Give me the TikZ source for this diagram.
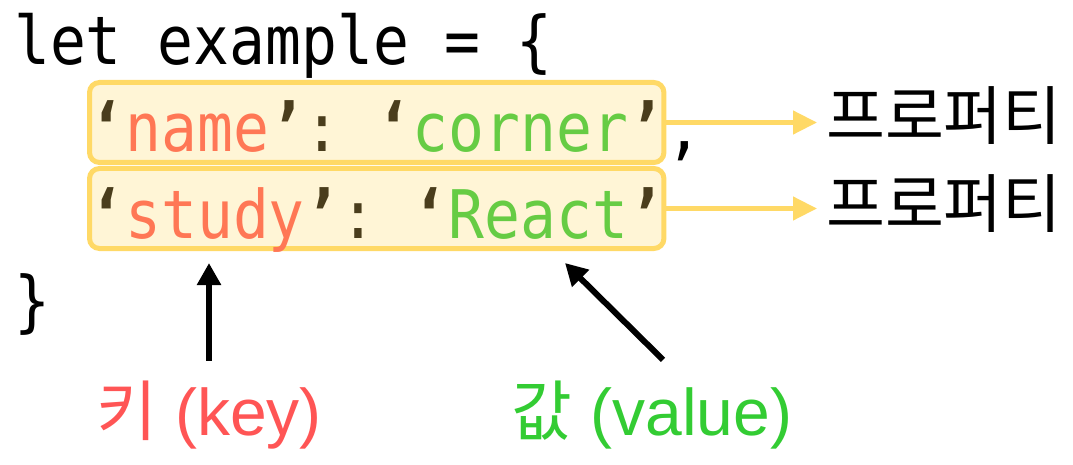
\documentclass[tikz,border=0pt]{standalone}
\usepackage{fontspec}
\setmainfont{Liberation Sans}
\newfontfamily\codefont[FakeStretch=0.89]{DejaVu Sans Mono}
\newfontfamily\korfont{Noto Sans CJK KR}
\usetikzlibrary{arrows.meta,positioning}
\definecolor{boxline}{HTML}{FFD966}
\definecolor{boxfill}{HTML}{FFF5D6}
\definecolor{keytext}{HTML}{FF7755}
\definecolor{valtext}{HTML}{66CC44}
\definecolor{quotemark}{HTML}{4A3D1C}
\definecolor{keyred}{HTML}{FF5555}
\definecolor{valgreen}{HTML}{33CC33}
\frenchspacing
\newcommand{\qm}[1]{\textcolor{quotemark}{\bfseries#1}}
\newcommand{\pkey}[1]{\qm{‘}\textcolor{keytext}{#1}\qm{’}\textcolor{quotemark}{:}}
\newcommand{\pval}[1]{\qm{‘}\textcolor{valtext}{#1}\qm{’}}
\tikzset{
  code/.style={font=\fontsize{67}{80}\selectfont\codefont,inner sep=0pt,anchor=base west},
  propbox/.style={code,draw=boxline,fill=boxfill,line width=5pt,rounded corners=10pt,text height=69.5pt,text depth=10.5pt},
  propword/.style={font=\fontsize{64}{74}\selectfont\korfont,inner sep=0pt,anchor=west},
  callout/.style={font=\fontsize{66}{80}\selectfont,inner sep=0pt,anchor=base,text height=48pt},
  toprop/.style={-{Triangle[length=24pt,width=23pt]},draw=boxline,line width=4.5pt},
  pointer/.style={-{Triangle[length=22pt,width=23pt]},line width=6pt}
}

\begin{document}
\begin{tikzpicture}[x=1pt,y=-1pt]
  \useasboundingbox (0,0) rectangle (1073,465);
  % code lines
  \node[code] (open) at (14,65) {let example = \{};
  \node[propbox] (name) at (87,152) {\pkey{name} \pval{corner}};
  \node[code] (comma) at (name.base east) {,};
  \node[propbox] (study) at (87,238) {\pkey{study} \pval{React}};
  \node[code] (close) at (14,324) {\}};
  % property labels
  \node[propword] (prop1) at (826,116) {프로퍼티};
  \node[propword] (prop2) at (826,204) {프로퍼티};
  \draw[toprop,shorten >=9pt] (name.east) -- (name.east -| prop1.west);
  \draw[toprop,shorten >=9pt] (study.east) -- (study.east -| prop2.west);
  % key and value
  \node[callout,text=keyred] (key) at (209,435) {{\korfont 키} (key)};
  \node[callout,text=valgreen] (value) at (652,435) {{\korfont 값} (value)};
  \coordinate (keyspot) at (209,263);
  \coordinate (valuespot) at (565,263);
  \draw[pointer] ([yshift=26pt]key.north) -- (keyspot);
  \draw[pointer] ([shift={(11,-27)}]value.north) -- (valuespot);
\end{tikzpicture}
\end{document}
